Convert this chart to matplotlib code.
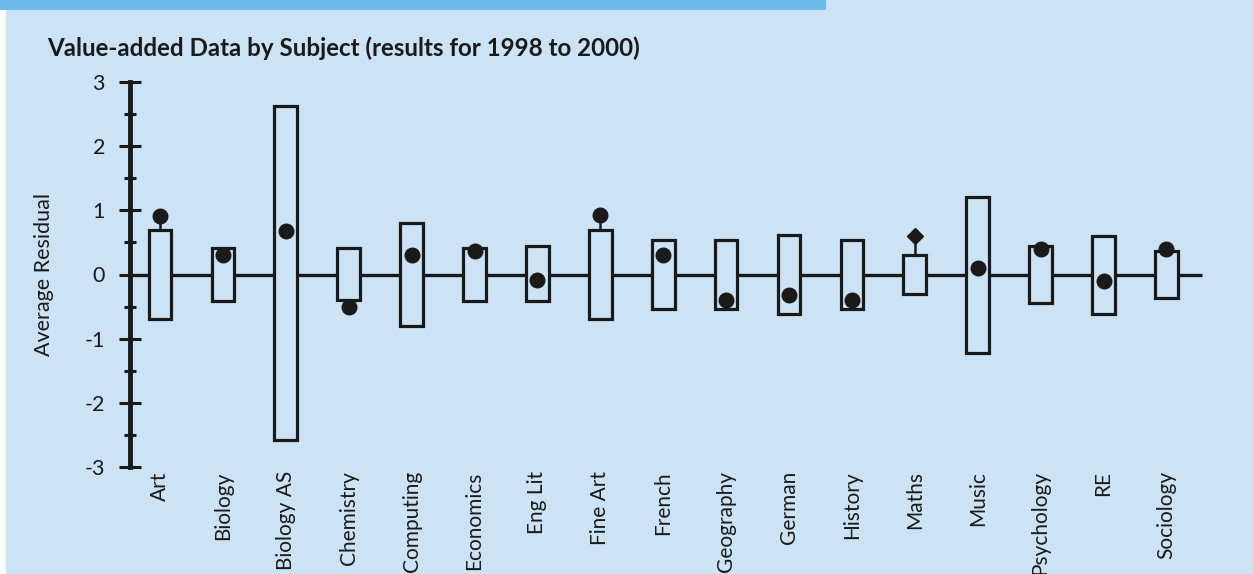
import matplotlib
matplotlib.use("Agg")
import matplotlib.pyplot as plt
from matplotlib.patches import Rectangle
from matplotlib.ticker import MultipleLocator

# data
subjects = ["Art", "Biology", "Biology AS", "Chemistry", "Computing", "Economics",
            "Eng Lit", "Fine Art", "French", "Geography", "German", "History",
            "Maths", "Music", "Psychology", "RE", "Sociology"]
box_top = [0.70, 0.42, 2.62, 0.42, 0.81, 0.42, 0.44, 0.70, 0.53, 0.53, 0.62, 0.53,
           0.30, 1.20, 0.45, 0.60, 0.37]
box_bottom = [-0.70, -0.41, -2.58, -0.39, -0.81, -0.42, -0.42, -0.70, -0.53, -0.53,
              -0.62, -0.53, -0.30, -1.22, -0.45, -0.62, -0.36]
residual = [0.91, 0.30, 0.68, -0.50, 0.30, 0.36, -0.08, 0.92, 0.30, -0.40, -0.32,
            -0.40, 0.60, 0.10, 0.40, -0.10, 0.40]

BG = "#cce3f5"
BAND = "#6dbbea"
INK = "#1a1a1a"

plt.rcParams['font.family'] = ['Lato', 'DejaVu Sans']
plt.rcParams['axes.unicode_minus'] = False

fig = plt.figure(figsize=(12.53, 5.74), dpi=100)
fig.patch.set_facecolor("white")

# background panel + top band
fig.add_artist(Rectangle((6 / 1253, 0), 1, 1, transform=fig.transFigure,
                         facecolor=BG, edgecolor="none", zorder=-10))
fig.add_artist(Rectangle((0, 1 - 10 / 574), 826 / 1253, 10 / 574, transform=fig.transFigure,
                         facecolor=BAND, edgecolor="none", zorder=-9))

ax = fig.add_axes([130 / 1253, 107 / 574, (1253 - 130) / 1253, (467 - 82) / 574])
ax.set_facecolor("none")

n = len(subjects)
w = 0.36
# zero line
ax.plot([-0.48, n - 0.43], [0, 0], color=INK, lw=2.4, zorder=1, solid_capstyle="butt")

for i in range(n):
    ax.add_patch(Rectangle((i - w / 2, box_bottom[i]), w, box_top[i] - box_bottom[i],
                           facecolor=BG, edgecolor=INK, lw=2.3, zorder=2))
    if residual[i] > box_top[i]:
        ax.plot([i, i], [box_top[i], residual[i]], color=INK, lw=1.8, zorder=3)
    elif residual[i] < box_bottom[i]:
        ax.plot([i, i], [box_bottom[i], residual[i]], color=INK, lw=1.8, zorder=3)
    mk = "D" if subjects[i] == "Maths" else "o"
    ax.plot(i, residual[i], marker=mk, ms=10.5 if mk == "o" else 8.5, color=INK,
            zorder=4, clip_on=False)

ax.set_xlim(-0.477, (1253 - 160) / 62.9)
ax.set_ylim(-3, 3)

for s in ["top", "right", "bottom"]:
    ax.spines[s].set_visible(False)
ax.spines["left"].set_linewidth(3.5)
ax.spines["left"].set_color(INK)

ax.yaxis.set_major_locator(MultipleLocator(1))
ax.yaxis.set_minor_locator(MultipleLocator(0.5))
ax.tick_params(axis="y", which="major", direction="inout", length=16, width=2.2,
               color=INK, labelsize=15.5, pad=10, labelcolor=INK)
ax.tick_params(axis="y", which="minor", direction="inout", length=9, width=2.2,
               color=INK)

ax.set_xticks(range(n))
ax.set_xticklabels(subjects, rotation=90, va="top", ha="center")
ax.tick_params(axis="x", length=0, labelsize=15, pad=3, labelcolor=INK)

ax.set_ylabel("Average Residual", fontsize=15.5, color=INK, labelpad=22)

fig.text(47 / 1253, 1 - 48 / 574, "Value-added Data by Subject (results for 1998 to 2000)",
         fontsize=17.4, fontweight="bold", color=INK, va="center", ha="left")

fig.savefig("out.png", dpi=100, facecolor=fig.get_facecolor())
